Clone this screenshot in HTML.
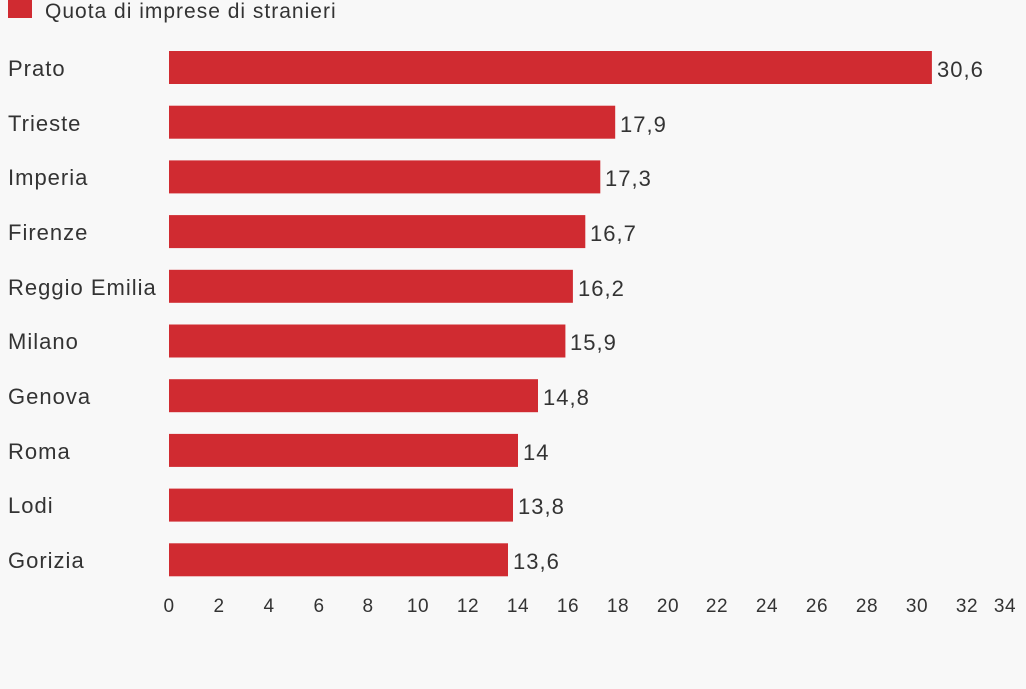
<!DOCTYPE html>
<html><head><meta charset="utf-8"><style>
body{margin:0;background:#f8f8f8;width:1026px;height:684px;overflow:hidden}
</style></head><body>
<svg width="1026" height="684" xmlns="http://www.w3.org/2000/svg" font-family="Liberation Sans, sans-serif" fill="#333">
<rect width="1026" height="684" fill="#f8f8f8"/>
<rect x="8" y="-2" width="24" height="20" fill="#d02b31"/>
<text x="45" y="18" font-size="21" letter-spacing="1">Quota di imprese di stranieri</text>
<g fill="#d02b31">
<rect x="169" y="51" width="762.9" height="33"/>
<rect x="169" y="105.7" width="446.2" height="33"/>
<rect x="169" y="160.4" width="431.3" height="33"/>
<rect x="169" y="215.1" width="416.3" height="33"/>
<rect x="169" y="269.8" width="403.9" height="33"/>
<rect x="169" y="324.5" width="396.4" height="33"/>
<rect x="169" y="379.2" width="369" height="33"/>
<rect x="169" y="433.9" width="349" height="33"/>
<rect x="169" y="488.6" width="344" height="33"/>
<rect x="169" y="543.3" width="339" height="33"/>
</g>
<g font-size="22" letter-spacing="1">
<text x="8" y="76">Prato</text><text x="937" y="77">30,6</text>
<text x="8" y="131">Trieste</text><text x="620" y="132">17,9</text>
<text x="8" y="185">Imperia</text><text x="605" y="186">17,3</text>
<text x="8" y="240">Firenze</text><text x="590" y="241">16,7</text>
<text x="8" y="295">Reggio Emilia</text><text x="578" y="296">16,2</text>
<text x="8" y="349">Milano</text><text x="570" y="350">15,9</text>
<text x="8" y="404">Genova</text><text x="543" y="405">14,8</text>
<text x="8" y="459">Roma</text><text x="523" y="460">14</text>
<text x="8" y="513">Lodi</text><text x="518" y="514">13,8</text>
<text x="8" y="568">Gorizia</text><text x="513" y="569">13,6</text>
</g>
<g font-size="19" text-anchor="middle" letter-spacing="0.5">
<text x="169" y="612">0</text><text x="219" y="612">2</text><text x="269" y="612">4</text>
<text x="319" y="612">6</text><text x="368" y="612">8</text><text x="418" y="612">10</text>
<text x="468" y="612">12</text><text x="518" y="612">14</text><text x="568" y="612">16</text>
<text x="618" y="612">18</text><text x="668" y="612">20</text><text x="717" y="612">22</text>
<text x="767" y="612">24</text><text x="817" y="612">26</text><text x="867" y="612">28</text>
<text x="917" y="612">30</text><text x="967" y="612">32</text><text x="1005" y="612">34</text>
</g>
</svg>
</body></html>
